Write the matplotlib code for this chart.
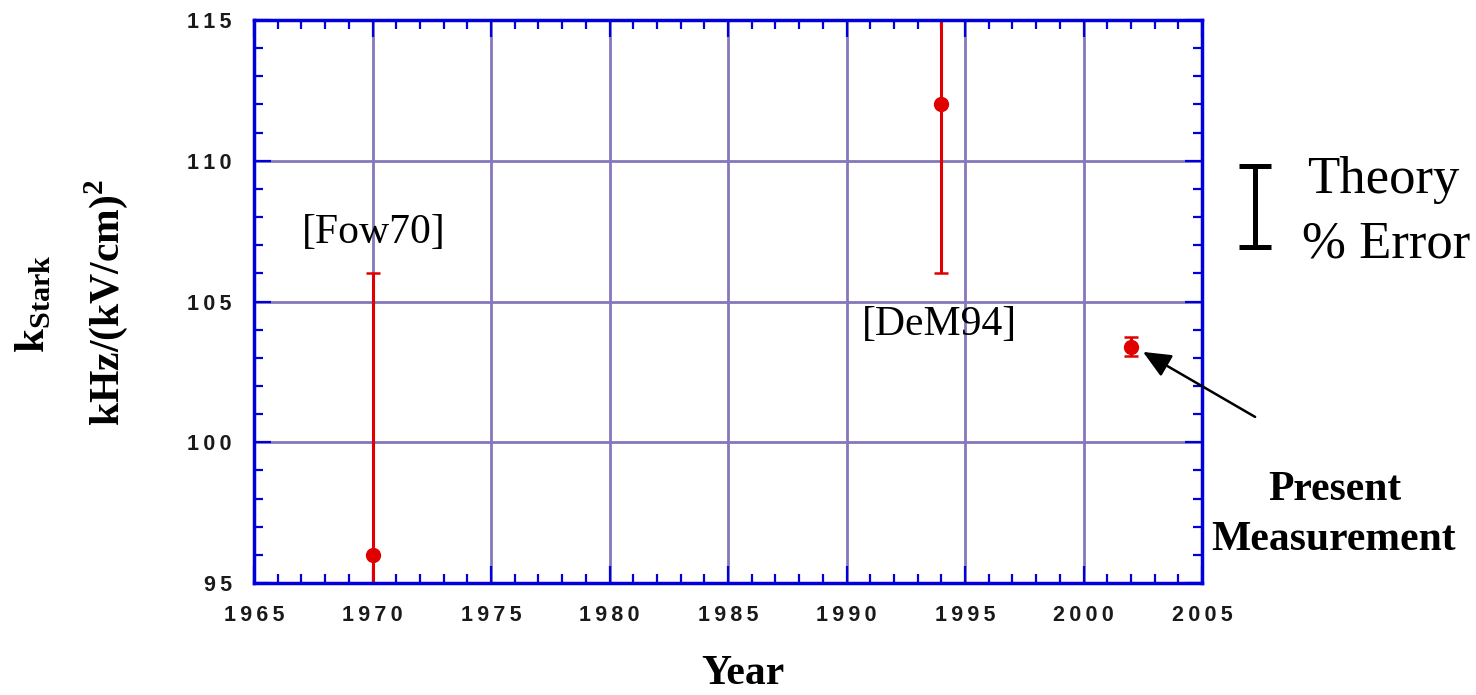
import matplotlib
matplotlib.use("Agg")
import matplotlib.pyplot as plt
from matplotlib.ticker import MultipleLocator, FuncFormatter

# Measurements of the Stark coefficient
years = [1970, 1994, 2002]
k_stark = [96.0, 112.0, 103.4]
k_err = [10.0, 6.0, 0.35]
refs = ["[Fow70]", "[DeM94]"]
ref_pos = [(1967.03, 107.08), (1990.65, 103.81)]

# Theory uncertainty indicator
theory_x = 2007.24
theory_center = 108.38
theory_err = 1.44

x_ticks = [1965, 1970, 1975, 1980, 1985, 1990, 1995, 2000, 2005]
y_ticks = [95, 100, 105, 110, 115]

plt.rcParams["mathtext.fontset"] = "custom"
plt.rcParams["mathtext.rm"] = "Liberation Serif"
plt.rcParams["mathtext.bf"] = "Liberation Serif:bold"

W, H = 1476, 695
fig = plt.figure(figsize=(W / 100, H / 100), dpi=100)
ax = fig.add_axes([254 / W, 1 - 583 / H, (1202 - 254) / W, (583 - 20) / H])

blue = "#0000dd"
grid_col = "#8676bc"
red = "#e00000"

ax.set_xlim(1965, 2005)
ax.set_ylim(95, 115)
ax.set_xticks(x_ticks)
ax.set_yticks(y_ticks)
ax.xaxis.set_minor_locator(MultipleLocator(1))
ax.yaxis.set_minor_locator(MultipleLocator(1))

# tick labels with letter-spaced digits
spaced = FuncFormatter(lambda v, p: "\u2009".join(str(int(round(v)))))
ax.xaxis.set_major_formatter(spaced)
ax.yaxis.set_major_formatter(spaced)

ax.grid(True, which="major", color=grid_col, linewidth=2.0, zorder=0)
ax.set_axisbelow(True)

for s in ax.spines.values():
    s.set_color(blue)
    s.set_linewidth(2.5)

ax.tick_params(which="both", direction="in", top=True, right=True,
               color=blue)
ax.tick_params(which="major", length=12, width=1.6)
ax.tick_params(which="minor", length=6.5, width=1.6)
ax.tick_params(axis="x", which="major", pad=16)
ax.tick_params(axis="y", which="major", pad=16)
for lab in ax.get_xticklabels() + ax.get_yticklabels():
    lab.set_fontfamily("Liberation Sans")
    lab.set_fontsize(15.5)
    lab.set_fontweight("bold")
    lab.set_color("#1a1a1a")

ax.errorbar(years, k_stark, yerr=k_err, fmt="o", color=red, ecolor=red,
            markersize=10, elinewidth=2.2, capsize=5, capthick=1.8, zorder=2)

serif = "Liberation Serif"
for txt, (tx, ty) in zip(refs, ref_pos):
    ax.text(tx, ty, txt, fontsize=30, family=serif, va="baseline",
            ha="left", zorder=3)

# Theory error bar beside the plot
ax.errorbar([theory_x], [theory_center], yerr=[theory_err], fmt="none",
            ecolor="black", elinewidth=3.6, capsize=11.5, capthick=3.6,
            clip_on=False)
fig.text(1307 / W, 1 - 193 / H, "Theory", fontsize=38, family=serif,
         va="baseline", ha="left")
fig.text(1302 / W, 1 - 257 / H, "% Error", fontsize=38, family=serif,
         va="baseline", ha="left")

# Pointer to the present result
ax.annotate("", xy=(2002.51, 103.21), xytext=(2007.24, 100.90),
            xycoords="data", textcoords="data", annotation_clip=False,
            arrowprops=dict(arrowstyle="-|>,head_length=1.7,head_width=0.75",
                            color="black", lw=1.8, shrinkA=0, shrinkB=0))
fig.text(1335 / W, 1 - 500 / H, "Present", fontsize=30, family=serif,
         weight="bold", va="baseline", ha="center")
fig.text(1334 / W, 1 - 550 / H, "Measurement", fontsize=30, family=serif,
         weight="bold", va="baseline", ha="center")

# Axis titles
fig.text(743 / W, 1 - 684 / H, "Year", fontsize=30, family=serif,
         weight="bold", va="baseline", ha="center")
fig.text(32 / W, 1 - 304 / H, r"$\mathbf{k}_{\mathbf{Stark}}$", fontsize=31,
         rotation=90, va="center", ha="center")
fig.text(106 / W, 1 - 303 / H, r"kHz/(kV/cm)$^{\mathbf{2}}$", fontsize=30,
         family=serif, weight="bold", rotation=90, va="center", ha="center")

fig.savefig("out.png", dpi=100)
